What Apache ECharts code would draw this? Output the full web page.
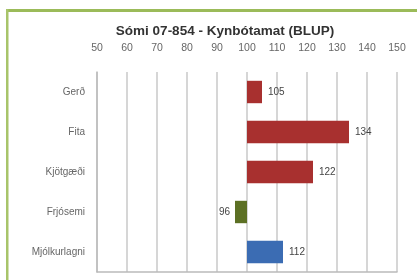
<!DOCTYPE html>
<html><head><meta charset="utf-8">
<script src="https://cdn.jsdelivr.net/npm/echarts@6/dist/echarts.min.js"></script>
<style>html,body{margin:0;padding:0;background:#fff}#c{width:417px;height:280px}</style>
</head><body><div id="c"></div>
<script>
var categories = ['Gerð', 'Fita', 'Kjötgæði', 'Frjósemi', 'Mjólkurlagni'];
var values = [105, 134, 122, 96, 112];
var barColors = ['#A8302F', '#A8302F', '#A8302F', '#5C7024', '#3B6CB3'];
var baseValue = 100;
var xTicks = [50, 60, 70, 80, 90, 100, 110, 120, 130, 140, 150];

var chart = echarts.init(document.getElementById('c'), null, {renderer: 'canvas'});
var data = values.map(function (v, i) { return [v, i]; });
chart.setOption({
  animation: false,
  backgroundColor: '#FFFFFF',
  graphic: [
    {type: 'rect', shape: {x: 6, y: 9, width: 420, height: 3}, style: {fill: '#9BBB59'}},
    {type: 'rect', shape: {x: 6, y: 9, width: 2.5, height: 280}, style: {fill: '#A8C46A'}}
  ],
  title: {
    text: 'Sómi 07-854 - Kynbótamat (BLUP)',
    left: 220, top: 19, textAlign: 'center',
    textStyle: {fontFamily: 'Liberation Sans', fontWeight: 'bold', fontSize: 13.5, color: '#333'}
  },
  grid: {left: 97, right: 20, top: 72, bottom: 8, containLabel: false},
  xAxis: [{
    type: 'value', position: 'top', min: xTicks[0], max: xTicks[xTicks.length - 1], interval: 10,
    axisLine: {show: false}, axisTick: {show: false},
    axisLabel: {color: '#666', fontSize: 10.5, fontFamily: 'Liberation Sans', margin: 18},
    splitLine: {show: true, lineStyle: {color: '#C8C8C8', width: 1.5}}
  }, {
    type: 'value', position: 'bottom', min: xTicks[0], max: xTicks[xTicks.length - 1], interval: 10,
    axisLine: {show: true, onZero: false, lineStyle: {color: '#BBBBBB', width: 1.5}},
    axisTick: {show: false}, axisLabel: {show: false}, splitLine: {show: false}
  }],
  yAxis: {
    type: 'category', data: categories, inverse: true,
    axisLine: {show: true, lineStyle: {color: '#BBBBBB', width: 1.5}},
    axisTick: {show: false},
    axisLabel: {color: '#666', fontSize: 10, fontFamily: 'Liberation Sans', margin: 12}
  },
  series: [{
    type: 'custom',
    data: data,
    xAxisIndex: 0,
    encode: {x: 0, y: 1},
    renderItem: function (params, api) {
      var v = api.value(0), idx = api.value(1);
      var p0 = api.coord([baseValue, idx]);
      var p1 = api.coord([v, idx]);
      var band = api.size([0, 1])[1];
      var h = band * 0.56;
      var x = Math.min(p0[0], p1[0]);
      var w = Math.abs(p1[0] - p0[0]);
      var neg = v < baseValue;
      return {
        type: 'group',
        children: [
          {type: 'rect', shape: {x: x, y: p0[1] - h / 2, width: w, height: h},
           style: {fill: barColors[idx]}},
          {type: 'text', x: neg ? p1[0] - 5 : p1[0] + 6, y: p0[1],
           style: {text: String(v), fill: '#444', fontSize: 10, fontFamily: 'Liberation Sans',
                   align: neg ? 'right' : 'left', verticalAlign: 'middle'}}
        ]
      };
    }
  }]
});
</script></body></html>
